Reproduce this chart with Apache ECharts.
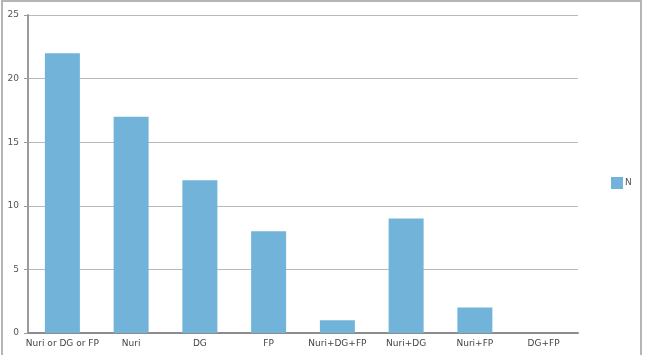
<!DOCTYPE html>
<html>
<head>
<meta charset="utf-8">
<script src="https://cdn.jsdelivr.net/npm/echarts@6/dist/echarts.min.js"></script>
<style>
  html, body { margin: 0; padding: 0; background: #fff; }
  #chart { width: 645px; height: 355px; }
</style>
</head>
<body>
<div id="chart"></div>
<script>
// categories and counts
var categories = ['Nuri or DG or FP', 'Nuri', 'DG', 'FP', 'Nuri+DG+FP', 'Nuri+DG', 'Nuri+FP', 'DG+FP'];
var counts = [22, 17, 12, 8, 1, 9, 2, 0];
var seriesName = 'N';

var chart = echarts.init(document.getElementById('chart'));
var option = {
    animation: false,
    backgroundColor: '#fff',
    textStyle: { fontFamily: 'DejaVu Sans' },
    graphic: [{
        // frame around the chart
        type: 'rect',
        shape: { x: 2, y: 1, width: 639, height: 370 },
        style: { fill: 'none', stroke: '#b5b5b5', lineWidth: 2 },
        silent: true
    }],
    grid: { left: 28, right: 67, top: 15, bottom: 22 },
    legend: {
        data: [{ name: seriesName, icon: 'rect' }],
        orient: 'vertical',
        left: 606,
        top: 172,
        itemWidth: 12,
        itemHeight: 12,
        itemGap: 2,
        textStyle: { fontSize: 9, color: '#555', padding: [-8, 0, 0, -3] }
    },
    xAxis: {
        type: 'category',
        data: categories,
        axisLine: { lineStyle: { color: '#8c8c8c', width: 2 } },
        axisTick: { show: false },
        axisLabel: { fontSize: 9, color: '#444', margin: 6, interval: 0 }
    },
    yAxis: {
        type: 'value',
        min: 0,
        max: 25,
        interval: 5,
        axisLine: { show: true, lineStyle: { color: '#9a9a9a', width: 2 } },
        axisTick: { show: true, length: 4, lineStyle: { color: '#9a9a9a' } },
        axisLabel: { fontSize: 9, color: '#555', margin: 9 },
        splitLine: { lineStyle: { color: '#b8b8b8', width: 1 } }
    },
    series: [{
        name: seriesName,
        type: 'bar',
        data: counts,
        barWidth: 35,
        itemStyle: { color: '#72b4d9' }
    }]
};
chart.setOption(option);
</script>
</body>
</html>
